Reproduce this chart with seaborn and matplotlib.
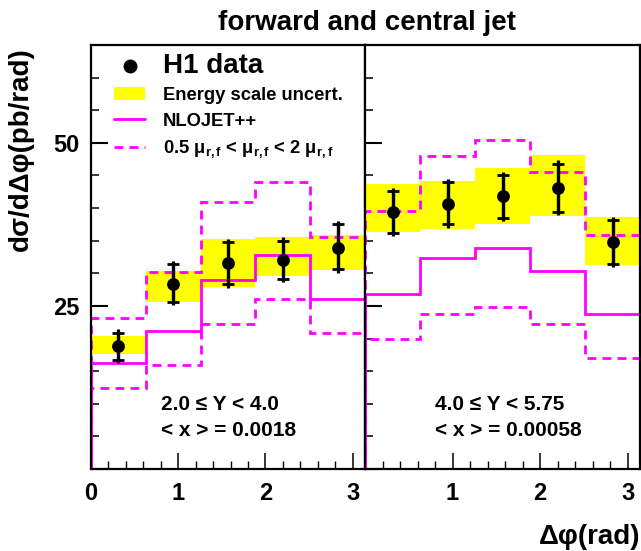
import numpy as np
import matplotlib
matplotlib.use("Agg")
import matplotlib.pyplot as plt
import seaborn as sns
from matplotlib.lines import Line2D
from matplotlib.patches import Patch
from matplotlib.ticker import MultipleLocator, FixedLocator, FuncFormatter

# ---------------- data ----------------
bin_edges = np.linspace(0, np.pi, 6)
bin_centers = 0.5 * (bin_edges[1:] + bin_edges[:-1])

# panel 1 : 2.0 <= Y < 4.0
left_data = [18.8, 28.4, 31.6, 32.0, 33.9]
left_err_up = [2.6, 3.5, 3.7, 3.5, 4.1]
left_err_dn = [2.6, 3.3, 3.8, 3.3, 3.8]
left_stat_up = [2.1, 3.0, 3.2, 3.0, 3.6]
left_stat_dn = [2.1, 2.8, 3.3, 2.8, 3.3]
left_band_hi = [20.4, 30.4, 35.3, 35.5, 35.9]
left_band_lo = [17.7, 25.6, 27.9, 29.6, 30.5]
left_nlo = [16.3, 21.1, 29.0, 32.8, 26.0]
left_nlo_up = [23.1, 30.2, 40.9, 44.0, 35.6]
left_nlo_dn = [12.4, 16.0, 22.3, 26.1, 20.8]

# panel 2 : 4.0 <= Y < 5.75
right_data = [39.4, 40.7, 41.8, 43.1, 34.8]
right_err_up = [3.7, 3.8, 3.8, 4.2, 3.8]
right_err_dn = [3.7, 3.7, 3.8, 4.2, 3.8]
right_stat_up = [3.2, 3.3, 3.3, 3.7, 3.3]
right_stat_dn = [3.2, 3.2, 3.3, 3.7, 3.3]
right_band_hi = [43.7, 44.1, 46.2, 48.1, 38.7]
right_band_lo = [36.3, 36.8, 37.5, 38.8, 31.2]
right_nlo = [26.9, 32.4, 33.9, 30.4, 23.7]
right_nlo_up = [39.6, 48.0, 50.5, 45.6, 35.8]
right_nlo_dn = [19.9, 23.7, 24.8, 22.2, 17.0]

panel_text = [["2.0 ≤ Y < 4.0", "< x > = 0.0018"],
              ["4.0 ≤ Y < 5.75", "< x > = 0.00058"]]

# ---------------- style ----------------
sns.set_theme(style="white")
plt.rcParams["font.family"] = ["Liberation Sans", "DejaVu Sans"]
plt.rcParams["font.weight"] = "bold"
for k in ["text.color", "axes.labelcolor", "xtick.color", "ytick.color",
          "axes.edgecolor"]:
    plt.rcParams[k] = "black"
plt.rcParams["mathtext.fontset"] = "custom"
plt.rcParams["mathtext.rm"] = "Liberation Sans:bold"
plt.rcParams["mathtext.it"] = "Liberation Sans:bold"
plt.rcParams["mathtext.bf"] = "Liberation Sans:bold"
plt.rcParams["mathtext.default"] = "rm"

MAG = "#ff00ff"
YEL = "#ffff00"
DASH = (0, (3.2, 2.2))

W, H = 641, 551
fig = plt.figure(figsize=(W / 100, H / 100), dpi=100)
fig.patch.set_facecolor("white")

x0, x1, x2 = 91, 365, 640
ytop, ybot = 45, 469
axL = fig.add_axes([x0 / W, 1 - ybot / H, (x1 - x0) / W, (ybot - ytop) / H])
axR = fig.add_axes([x1 / W, 1 - ybot / H, (x2 - x1) / W, (ybot - ytop) / H])

panels = [
    (axL, left_data, left_err_up, left_err_dn, left_stat_up, left_stat_dn,
     left_band_hi, left_band_lo, left_nlo, left_nlo_up, left_nlo_dn),
    (axR, right_data, right_err_up, right_err_dn, right_stat_up, right_stat_dn,
     right_band_hi, right_band_lo, right_nlo, right_nlo_up, right_nlo_dn),
]

bw = bin_edges[1] - bin_edges[0]
for i, (ax, d, eu, ed, su, sd, bh, bl, nlo, nup, ndn) in enumerate(panels):
    ax.set_facecolor("white")
    bh = np.asarray(bh); bl = np.asarray(bl)
    ax.bar(bin_centers, bh - bl, bottom=bl, width=bw, color=YEL,
           edgecolor="none", zorder=1)
    ax.stairs(nlo, bin_edges, color=MAG, lw=2.0, zorder=2, baseline=0)
    ax.stairs(nup, bin_edges, color=MAG, lw=2.0, ls=DASH, zorder=2, baseline=0)
    ax.stairs(ndn, bin_edges, color=MAG, lw=2.0, ls=DASH, zorder=2, baseline=0)
    ax.errorbar(bin_centers, d, yerr=[ed, eu], fmt="none", ecolor="black",
                elinewidth=2.3, capsize=0, zorder=4)
    ax.errorbar(bin_centers, d, yerr=[sd, su], fmt="none", ecolor="black",
                elinewidth=2.3, capsize=4.0, capthick=2.0, zorder=4)
    sns.scatterplot(x=bin_centers, y=d, ax=ax, color="black", s=85,
                    edgecolor="black", linewidth=0, zorder=5, legend=False)

    ax.set_xlim(0, np.pi)
    ax.set_ylim(0, 65)
    ax.xaxis.set_major_locator(MultipleLocator(1))
    ax.xaxis.set_minor_locator(MultipleLocator(0.2))
    ax.yaxis.set_major_locator(FixedLocator([0, 25, 50]))
    ax.yaxis.set_minor_locator(MultipleLocator(5))
    ax.tick_params(axis="both", which="both", direction="in",
                   bottom=True, left=True, top=False, right=False,
                   color="black")
    ax.tick_params(axis="x", which="major", length=11.5, width=1.1,
                   labelsize=17, pad=9)
    ax.tick_params(axis="x", which="minor", length=5.8, width=1.0)
    ax.tick_params(axis="y", which="major", length=12, width=1.5,
                   labelsize=17, pad=8)
    ax.tick_params(axis="y", which="minor", length=6, width=1.1)
    for sp in ax.spines.values():
        sp.set_color("black")
        sp.set_linewidth(1.6)
        sp.set_visible(True)
    ax.yaxis.set_major_formatter(
        FuncFormatter(lambda v, p: "" if v == 0 else f"{v:g}"))
    if i == 1:
        ax.set_yticklabels([])
        ax.xaxis.set_major_formatter(
            FuncFormatter(lambda v, p: "" if v == 0 else f"{v:g}"))
    for lab in ax.get_xticklabels() + ax.get_yticklabels():
        lab.set_fontweight("bold")
    ax.set_xlabel("")
    ax.set_ylabel("")

    ax.text(0.255, 0.152, panel_text[i][0], transform=ax.transAxes,
            fontsize=15, fontweight="bold", ha="left", va="center")
    ax.text(0.255, 0.090, panel_text[i][1], transform=ax.transAxes,
            fontsize=15, fontweight="bold", ha="left", va="center")

# legend
handles = [
    Line2D([], [], ls="none", marker="o", color="black", markersize=9),
    Patch(facecolor=YEL, edgecolor="none"),
    Line2D([], [], color=MAG, lw=2.0),
    Line2D([], [], color=MAG, lw=2.0, ls=DASH),
]
labels = ["H1 data", "Energy scale uncert.", "NLOJET++",
          r"0.5 μ$_{r,f}$ < μ$_{r,f}$ < 2 μ$_{r,f}$"]
leg = axL.legend(handles, labels, loc="upper left",
                 bbox_to_anchor=(0.084, 0.982), frameon=False,
                 handlelength=1.7, handletextpad=0.95,
                 labelspacing=0.47, borderaxespad=0.0, borderpad=0.0,
                 prop={"weight": "bold", "size": 13.2})
leg.get_texts()[0].set_fontsize(20)
leg.set_zorder(10)

fig.text(367 / W, 1 - 23 / H, "forward and central jet", ha="center",
         va="center", fontsize=20, fontweight="bold")
fig.text(21 / W, 1 - 47 / H, "dσ/dΔφ(pb/rad)", rotation=90, ha="center",
         va="top", fontsize=20, fontweight="bold")
fig.text(640 / W, 1 - 537 / H, "Δφ(rad)", ha="right", va="center",
         fontsize=20, fontweight="bold")

fig.savefig("out.png", dpi=100, facecolor="white")
